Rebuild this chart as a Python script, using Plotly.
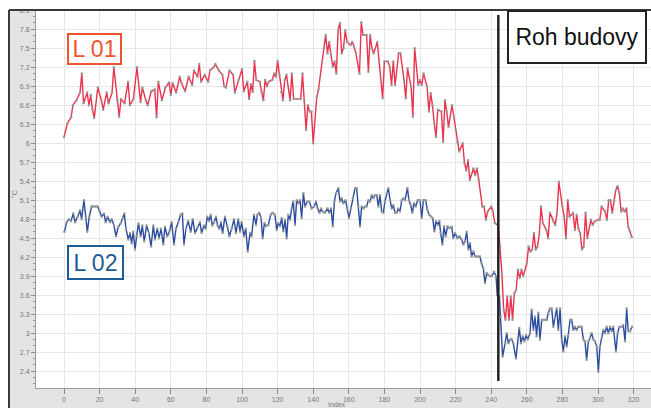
import plotly.graph_objects as go

# Temperature readings along the measuring index (°C)
l01_index = [0,2,4,5,7,9,10,11,13,14,15,16,17,19,21,22,24,25,27,28,30,31,32,34,36,37,39,41,43,44,46,47,49,51,52,53,55,57,59,60,61,63,65,66,68,70,72,73,75,76,77,79,81,82,84,85,87,89,90,91,93,95,96,98,100,101,103,104,105,106,107,108,110,111,112,113,114,115,117,118,119,120,121,122,123,124,125,127,128,129,131,133,134,135,136,137,138,139,140,142,143,145,146,147,148,149,150,151,152,153,154,155,156,157,158,159,161,162,163,164,166,167,168,170,171,172,173,174,176,177,178,179,180,182,183,184,185,186,188,189,191,192,193,195,196,197,199,200,201,202,204,205,206,207,208,209,210,212,213,214,215,216,218,219,220,221,222,224,225,226,227,228,230,231,232,233,235,236,237,238,240,241,242,244,245,246,247,248,249,250,251,252,253,254,255,256,257,258,260,261,262,263,264,265,266,267,268,269,271,272,273,275,276,277,278,280,281,282,283,284,286,287,288,289,290,291,292,293,294,296,297,298,300,301,302,304,305,306,307,308,309,310,311,312,313,314,315,316,317,318,319]
l01_temp = [6.1,6.32,6.41,6.6,6.68,6.8,7.1,6.63,6.8,6.6,6.76,6.53,6.4,6.88,6.68,6.53,6.8,6.63,6.8,7.2,6.68,6.42,6.7,6.63,6.97,6.6,6.7,7.2,6.65,6.88,6.68,6.6,6.82,6.85,6.41,6.97,6.68,6.88,6.96,6.76,6.95,6.8,7.05,6.95,6.82,7.05,6.92,7.15,7.05,7.25,6.97,7.08,6.97,7.15,7.2,7.25,7.15,7.08,6.9,6.88,7.15,7.08,6.8,7.0,7.17,6.82,6.97,6.7,6.93,6.81,7.3,7.0,6.97,6.81,6.68,7.0,6.9,6.97,7.0,7.1,7.05,7.3,7.08,6.81,6.68,7.0,7.08,6.68,7.1,6.7,6.7,6.7,7.1,6.68,6.21,6.6,6.5,6.5,6.0,6.73,6.85,7.29,7.5,7.71,7.42,7.6,7.4,7.21,7.29,7.1,7.79,7.9,7.42,7.5,7.78,7.6,7.55,7.6,7.52,7.42,7.1,7.91,7.71,7.71,7.13,7.71,7.5,7.42,7.6,7.29,7.0,6.71,7.29,7.29,7.21,6.92,7.29,6.92,7.42,7.42,7.0,6.71,7.18,6.89,6.42,7.5,6.92,7.0,6.92,7.1,6.89,6.5,6.79,6.6,6.32,6.1,6.53,6.5,6.02,6.68,6.5,6.26,6.6,6.42,6.21,6.02,5.87,6.0,5.68,5.57,5.73,5.42,5.6,5.5,5.6,5.42,5.0,5.0,4.79,4.92,5.0,4.92,4.74,4.7,4.37,3.95,3.37,3.21,3.58,3.21,3.58,3.21,3.63,3.68,4.0,3.87,4.0,3.9,4.1,4.37,4.29,4.32,4.58,4.32,4.37,4.55,5.0,4.74,4.63,4.5,4.9,4.76,4.71,4.9,5.39,5.0,4.84,4.5,5.1,4.84,4.9,4.63,4.87,4.65,4.58,4.32,4.37,4.9,4.5,4.79,4.71,4.76,4.79,4.79,5.0,4.92,4.79,5.1,5.1,4.9,5.1,5.26,5.32,5.21,4.92,4.97,4.92,4.97,4.68,4.61,4.52]

l02_index = [0.2,1.5,2.8,3.9,5.2,6.2,7.7,9.0,9.9,11.2,12.2,13.1,14.2,15.5,16.5,17.8,18.9,19.8,21.2,22.5,23.4,24.5,25.8,26.8,28.1,29.2,30.5,31.8,33.0,33.9,34.8,36.1,37.1,38.0,38.9,39.9,40.8,41.8,43.1,44.0,45.1,46.4,47.7,48.9,50.2,51.1,52.4,53.4,54.5,55.8,56.7,58.0,59.2,60.5,61.8,62.9,64.2,65.5,66.5,67.4,68.5,69.8,71.2,72.3,73.6,75.1,76.4,77.3,78.6,79.6,80.5,81.5,82.4,83.3,84.3,85.4,86.3,87.3,88.2,89.1,90.4,91.8,92.9,94.2,95.5,96.6,97.9,98.9,99.8,101.1,102.1,103.2,104.5,105.4,106.7,107.9,108.6,109.7,110.7,111.6,112.6,113.5,114.8,116.1,117.2,118.5,119.5,120.4,121.4,122.3,123.2,124.2,125.1,126.0,127.0,127.9,128.8,129.8,130.7,131.7,132.6,133.5,134.5,135.4,136.7,137.8,139.1,140.5,141.6,142.5,143.5,144.4,145.3,146.6,148.0,149.1,150.0,151.0,151.9,152.8,154.1,155.1,156.0,156.9,158.2,159.2,160.1,161.2,162.2,163.5,164.4,165.4,166.3,167.2,168.2,169.1,170.0,171.0,171.9,172.9,173.8,174.7,175.7,176.6,177.5,178.5,179.4,180.3,181.3,182.2,183.2,184.1,185.0,186.0,186.9,187.8,188.8,189.7,190.6,191.6,192.9,193.8,194.8,195.7,196.6,197.6,198.7,200.0,201.0,201.9,203.2,204.1,205.1,206.2,207.1,208.1,209.0,209.9,210.9,211.6,212.6,213.5,214.4,215.5,216.5,217.8,218.7,219.7,221.0,222.1,223.4,224.3,225.3,226.2,227.2,228.1,229.0,230.0,230.9,232.2,233.7,234.6,235.6,236.5,237.5,238.4,239.3,240.3,241.6,242.7,243.4,244.6,245.3,246.4,247.8,248.7,249.6,250.6,251.5,252.4,253.9,254.9,255.8,256.7,257.7,258.6,259.6,260.5,261.8,262.7,263.7,264.6,265.5,266.5,267.4,268.4,269.7,271.2,272.1,273.0,274.0,274.9,275.8,276.8,277.7,278.7,279.6,280.5,281.5,282.4,283.3,284.3,285.2,286.1,287.1,288.0,289.0,289.9,290.8,291.8,292.7,293.6,294.6,295.5,296.4,297.4,298.3,299.3,300.2,301.1,302.1,303.0,303.9,304.9,305.8,306.7,307.7,308.6,310.1,311.0,312.0,313.3,314.2,315.2,316.1,317.0,318.0,319.1]
l02_temp = [4.6,4.75,4.8,4.77,4.89,4.75,4.84,4.94,4.8,5.1,4.84,4.6,4.84,5.0,5.0,5.0,5.0,4.94,4.84,4.89,4.75,4.84,4.75,4.8,4.7,4.53,4.68,4.73,4.82,4.89,4.65,4.48,4.58,4.42,4.6,4.32,4.53,4.73,4.53,4.7,4.45,4.7,4.58,4.37,4.7,4.48,4.65,4.5,4.65,4.4,4.68,4.53,4.6,4.75,4.4,4.65,4.75,4.87,4.89,4.4,4.65,4.77,4.6,4.8,4.58,4.68,4.75,4.58,4.7,4.65,4.84,4.77,4.87,4.7,4.75,4.84,4.7,4.65,4.75,4.58,4.84,4.68,4.53,4.65,4.8,4.58,4.8,4.6,4.75,4.53,4.65,4.29,4.58,4.53,4.87,4.71,4.87,4.9,4.82,4.5,4.74,4.69,4.71,4.87,4.9,4.87,4.63,4.74,4.69,4.82,4.61,4.79,4.5,4.87,4.79,4.97,5.08,4.71,5.1,5.05,5.1,4.82,5.21,5.0,5.08,5.08,4.97,5.0,5.08,4.97,4.9,4.97,4.92,4.9,4.97,4.9,4.97,4.69,5.08,5.21,5.29,5.08,5.13,5.05,5.1,4.95,4.82,4.97,5.13,5.29,5.29,5.0,4.69,5.0,4.97,5.0,5.0,5.1,5.08,5.18,5.13,5.18,5.18,5.0,5.18,4.92,4.9,5.08,5.21,5.29,5.1,4.97,5.02,4.9,4.9,4.97,4.92,5.1,5.13,5.1,5.29,5.1,5.02,4.9,5.05,5.0,5.1,5.1,4.82,5.1,5.1,4.95,4.87,4.84,4.82,4.61,4.77,4.71,4.77,4.58,4.4,4.69,4.53,4.69,4.66,4.68,4.5,4.58,4.5,4.53,4.48,4.4,4.45,4.6,4.32,4.42,4.21,4.29,4.21,4.21,4.21,4.1,4.02,3.79,3.95,3.92,3.9,3.9,3.97,3.9,3.6,3.58,3.26,2.63,2.84,3.0,2.84,2.9,2.9,2.84,2.6,2.92,3.08,2.84,2.95,2.87,2.97,2.9,3.0,3.37,3.05,3.26,2.95,3.32,2.9,3.21,3.21,3.21,3.32,3.39,3.39,3.1,3.24,3.39,3.05,3.39,2.9,2.71,2.95,2.79,2.97,3.21,3.21,3.05,3.1,3.05,3.1,3.1,3.1,2.9,2.87,2.58,2.87,2.92,3.0,2.9,2.87,2.79,2.39,2.79,2.92,3.05,3.0,3.1,3.0,3.1,3.03,3.1,2.71,3.0,3.1,3.1,3.13,2.87,3.39,3.03,3.03,3.1]

corner_index = 244  # building corner position
x_ticks = list(range(0, 321, 20))
y_ticks = [2.1, 2.4, 2.7, 3, 3.3, 3.6, 3.9, 4.2, 4.5, 4.8, 5.1, 5.4, 5.7, 6, 6.3, 6.6, 6.9, 7.2, 7.5, 7.8, 8.1]

RED = "#e8344e"
BLUE = "#2c4c9e"
MARK = "#9a9a9a"
LABEL_FONT = "Liberation Sans, Arial, sans-serif"

fig = go.Figure()
fig.add_trace(go.Scatter(
    x=l01_index, y=l01_temp, mode="lines+markers", name="L 01",
    line=dict(color=RED, width=1.4),
    marker=dict(color=MARK, size=2.5),
))
fig.add_trace(go.Scatter(
    x=l02_index, y=l02_temp, mode="lines+markers", name="L 02",
    line=dict(color=BLUE, width=1.4),
    marker=dict(color=MARK, size=2.5),
))

W, H = 651, 408
ML, MR, MT, MB = 36, 0, 10, 20
pw = W - ML - MR
ph = H - MT - MB


def px(xp):
    return (xp - ML) / pw


def py(yp):
    return (H - MB - yp) / ph


shapes = [
    # white strips outside the grey frame
    dict(type="rect", xref="paper", yref="paper", x0=px(0), x1=px(W), y0=py(10), y1=py(0),
         fillcolor="white", line=dict(width=0), layer="above"),
    dict(type="rect", xref="paper", yref="paper", x0=px(0), x1=px(9), y0=py(H), y1=py(0),
         fillcolor="white", line=dict(width=0), layer="above"),
    # dark frame edges
    dict(type="line", xref="paper", yref="paper", x0=px(9), x1=px(W), y0=py(10), y1=py(10),
         line=dict(color="#3a3a3a", width=2), layer="above"),
    dict(type="line", xref="paper", yref="paper", x0=px(9), x1=px(9), y0=py(10), y1=py(H),
         line=dict(color="#3a3a3a", width=2), layer="above"),
    # building corner marker
    dict(type="line", xref="x", yref="paper", x0=corner_index, x1=corner_index,
         y0=py(381), y1=py(15), line=dict(color="#222222", width=2.5), layer="above"),
]

annotations = [
    dict(text="L 01", xref="paper", yref="paper", x=px(94.5), y=py(49),
         showarrow=False, font=dict(family=LABEL_FONT, size=23, color="#ee5430"),
         bordercolor="#ee5430", borderwidth=2, borderpad=0, bgcolor="white",
         width=51, height=28, xanchor="center", yanchor="middle"),
    dict(text="L 02", xref="paper", yref="paper", x=px(95.5), y=py(262.5),
         showarrow=False, font=dict(family=LABEL_FONT, size=23, color="#1e5a96"),
         bordercolor="#1e5a96", borderwidth=2, borderpad=0, bgcolor="white",
         width=53, height=31, xanchor="center", yanchor="middle"),
    dict(text="Roh budovy", xref="paper", yref="paper", x=px(577), y=py(37),
         showarrow=False, font=dict(family=LABEL_FONT, size=23, color="#111111"),
         bordercolor="#222222", borderwidth=2, borderpad=0, bgcolor="white",
         width=136, height=50, xanchor="center", yanchor="middle"),
    dict(text="°C", xref="paper", yref="paper", x=px(14), y=py(194), textangle=-90,
         showarrow=False, font=dict(family=LABEL_FONT, size=7, color="#777777"),
         xanchor="center", yanchor="middle"),
    dict(text="Index", xref="paper", yref="paper", x=px(337), y=py(405),
         showarrow=False, font=dict(family=LABEL_FONT, size=7, color="#777777"),
         xanchor="center", yanchor="middle"),
]

x_lo = (ML - 64) / 1.78
x_hi = (W - MR - 64) / 1.78
y_hi = 8.1 + (10.3 - MT) / 63.3
y_lo = y_hi - ph / 63.3

fig.update_layout(
    width=W, height=H,
    margin=dict(l=ML, r=MR, t=MT, b=MB, pad=0),
    paper_bgcolor="#e4e4e4",
    plot_bgcolor="white",
    showlegend=False,
    shapes=shapes,
    annotations=annotations,
    font=dict(family=LABEL_FONT, size=7, color="#777777"),
    xaxis=dict(
        range=[x_lo, x_hi], tickvals=x_ticks, showgrid=True, gridcolor="#e6e6e6", gridwidth=1,
        zeroline=False, showline=True, linecolor="#9a9a9a", linewidth=1,
        ticks="outside", ticklen=5, tickcolor="#8a8a8a",
        tickfont=dict(size=7, color="#777777"),
    ),
    yaxis=dict(
        range=[y_lo, y_hi], tickvals=y_ticks, showgrid=True, gridcolor="#e6e6e6", gridwidth=1,
        zeroline=False, showline=True, linecolor="#9a9a9a", linewidth=1,
        ticks="outside", ticklen=4, tickcolor="#8a8a8a",
        tickfont=dict(size=7, color="#777777"),
        minor=dict(dtick=0.1, tick0=0, ticks="outside", ticklen=2, tickcolor="#9a9a9a", showgrid=False),
    ),
)

fig.write_html("out.html")
